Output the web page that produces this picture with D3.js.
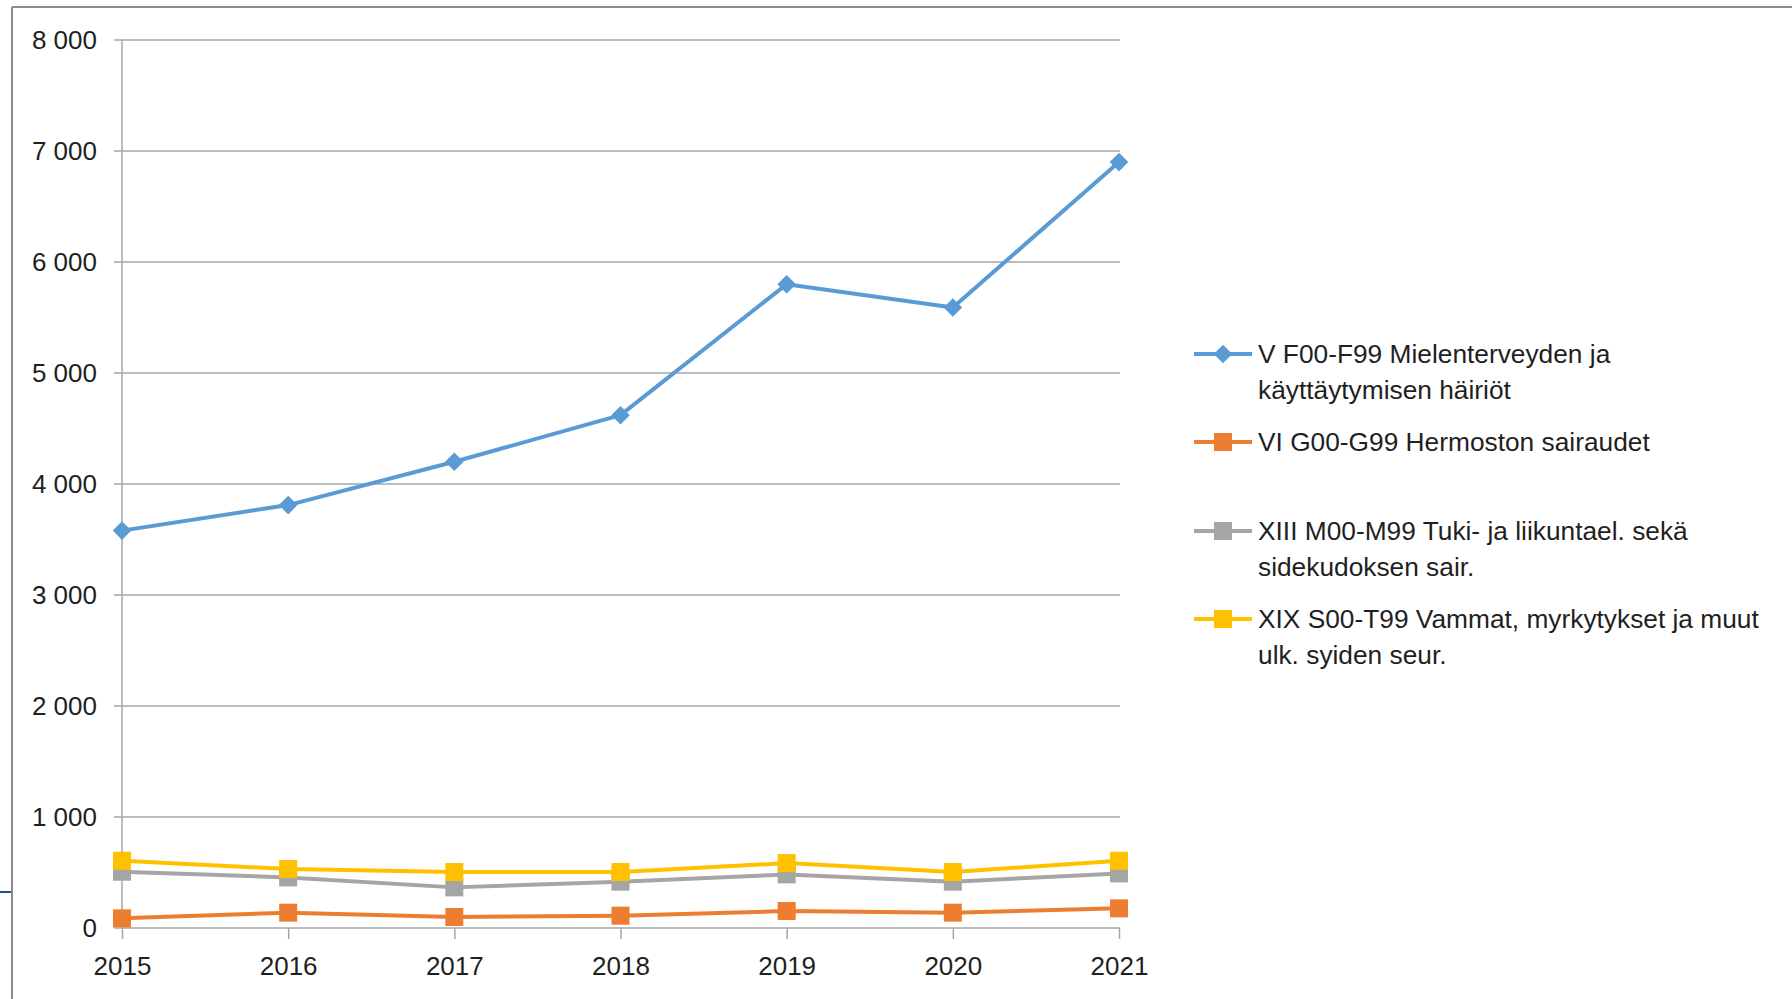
<!DOCTYPE html>
<html>
<head>
<meta charset="utf-8">
<script src="https://cdnjs.cloudflare.com/ajax/libs/d3/7.8.5/d3.min.js"></script>
<style>
  body { margin: 0; background: #fff; }
  svg text { font-family: "Liberation Sans", Arial, sans-serif; fill: #1f1f1f; }
</style>
</head>
<body>
<div id="chart"></div>
<script>
// data
var years = ["2015", "2016", "2017", "2018", "2019", "2020", "2021"];
var mentalValues = [3580, 3810, 4200, 4620, 5800, 5590, 6900];
var nervousValues = [87, 138, 99, 111, 153, 138, 177];
var muscleValues = [507, 456, 366, 417, 483, 417, 492];
var injuryValues = [606, 531, 504, 504, 585, 504, 606];
var yTicks = [0, 1000, 2000, 3000, 4000, 5000, 6000, 7000, 8000];
var seriesNames = [
    ["V F00-F99 Mielenterveyden ja", "käyttäytymisen häiriöt"],
    ["VI G00-G99 Hermoston sairaudet"],
    ["XIII M00-M99 Tuki- ja liikuntael. sekä", "sidekudoksen sair."],
    ["XIX S00-T99 Vammat, myrkytykset ja muut", "ulk. syiden seur."]
];
var seriesColors = ["#5B9BD5", "#ED7D31", "#A5A5A5", "#FFC000"];
var seriesShapes = ["diamond", "square", "square", "square"];

var series = [mentalValues, nervousValues, muscleValues, injuryValues].map(function(vals, i) {
    return {
        name: seriesNames[i],
        color: seriesColors[i],
        shape: seriesShapes[i],
        values: vals.map(function(v, j) { return { year: years[j], value: v }; })
    };
});

var width = 1792,
    height = 999,
    plotLeft = 122,
    plotRight = 1119,
    plotTop = 40,
    plotBottom = 928;

var svg = d3.select("#chart").append("svg")
    .attr("width", width)
    .attr("height", height);

// slide frame bits
svg.append("line").attr("x1", 12).attr("x2", width).attr("y1", 7).attr("y2", 7)
    .style("stroke", "#8c8c8c").style("stroke-width", 2);
svg.append("line").attr("x1", 12).attr("x2", 12).attr("y1", 7).attr("y2", height)
    .style("stroke", "#8c8c8c").style("stroke-width", 2);
svg.append("line").attr("x1", 0).attr("x2", 11).attr("y1", 892).attr("y2", 892)
    .style("stroke", "#1f4e9a").style("stroke-width", 2);

// scales
var x = d3.scalePoint()
    .domain(years)
    .range([plotLeft, plotRight]);

var y = d3.scaleLinear()
    .domain([0, 8000])
    .range([plotBottom, plotTop]);

var fmt = d3.formatLocale({ decimal: ",", thousands: " ", grouping: [3], currency: ["", " €"] }).format(",");

// gridlines
svg.selectAll(".grid")
    .data(yTicks)
    .enter().append("line")
    .attr("class", "grid")
    .attr("x1", plotLeft - 8)
    .attr("x2", plotRight + 1)
    .attr("y1", function(d) { return y(d); })
    .attr("y2", function(d) { return y(d); })
    .style("stroke", "#a6a6a6")
    .style("stroke-width", 1.5);

// y axis
var yAxis = svg.append("g")
    .attr("transform", "translate(" + plotLeft + ",0)")
    .call(d3.axisLeft(y).tickValues(yTicks).tickFormat(fmt).tickSize(0).tickPadding(25));
yAxis.select(".domain").remove();
yAxis.selectAll("text").style("font-size", "26px");

svg.append("line")
    .attr("x1", plotLeft).attr("x2", plotLeft)
    .attr("y1", plotTop).attr("y2", plotBottom)
    .style("stroke", "#a6a6a6").style("stroke-width", 1.5);

// x axis
var xAxis = svg.append("g")
    .attr("transform", "translate(0," + plotBottom + ")")
    .call(d3.axisBottom(x).tickSize(11).tickSizeOuter(0).tickPadding(18));
xAxis.select(".domain").remove();
xAxis.selectAll(".tick line").style("stroke", "#a6a6a6").style("stroke-width", 1.5);
xAxis.selectAll("text").style("font-size", "26px");

// lines
var line = d3.line()
    .x(function(d) { return x(d.year); })
    .y(function(d) { return y(d.value); });

var symbolFor = function(shape) {
    return shape == "diamond"
        ? d3.symbol().type(d3.symbolDiamond2).size(220)
        : d3.symbol().type(d3.symbolSquare).size(324);
};

var groups = svg.selectAll(".series")
    .data(series)
    .enter().append("g")
    .attr("class", "series");

groups.append("path")
    .attr("d", function(d) { return line(d.values); })
    .style("fill", "none")
    .style("stroke", function(d) { return d.color; })
    .style("stroke-width", 4)
    .style("stroke-linejoin", "round");

groups.each(function(s) {
    d3.select(this).selectAll(".marker")
        .data(s.values)
        .enter().append("path")
        .attr("class", "marker")
        .attr("transform", function(d) { return "translate(" + x(d.year) + "," + y(d.value) + ")"; })
        .attr("d", symbolFor(s.shape)())
        .style("fill", s.color);
});

// legend
var legendRows = [354, 442, 531, 619];
var legend = svg.selectAll(".legend")
    .data(series)
    .enter().append("g")
    .attr("class", "legend")
    .attr("transform", function(d, i) { return "translate(1194," + legendRows[i] + ")"; });

legend.append("line")
    .attr("x1", 0).attr("x2", 58)
    .style("stroke", function(d) { return d.color; })
    .style("stroke-width", 4);

legend.append("path")
    .attr("transform", "translate(29,0)")
    .attr("d", function(d) { return symbolFor(d.shape)(); })
    .style("fill", function(d) { return d.color; });

legend.append("text")
    .attr("x", 64)
    .style("font-size", "26.3px")
    .selectAll("tspan")
    .data(function(d) { return d.name; })
    .enter().append("tspan")
    .attr("x", 64)
    .attr("y", function(d, i) { return 9 + i * 36; })
    .text(function(d) { return d; });
</script>
</body>
</html>
